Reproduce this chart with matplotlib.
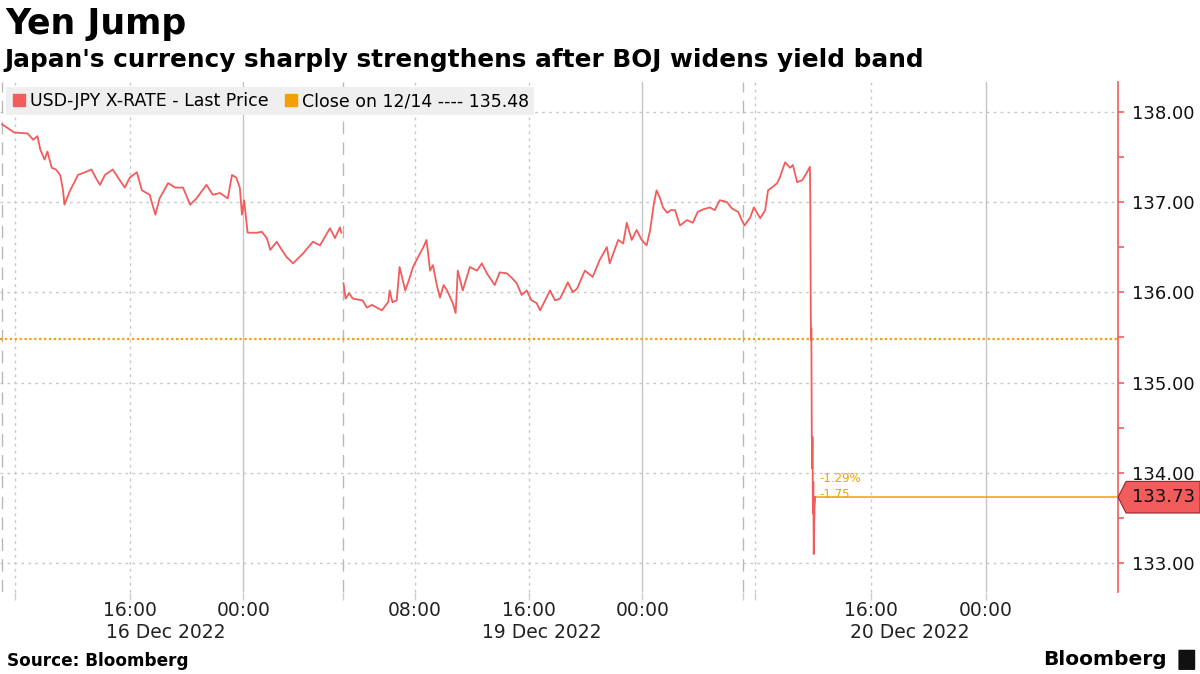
import matplotlib.pyplot as plt
import numpy as np
from matplotlib.lines import Line2D
from matplotlib.patches import Polygon, FancyBboxPatch

# czas w godzinach na osi wykresu (weekend wycięty), start = 16 Dec 07:00
hours_dec16 = [0, 0.4, 0.85, 1.8, 2.2, 2.5, 2.7, 3.0, 3.2, 3.5, 3.8, 4.1, 4.3, 4.4, 4.8,
               5.1, 5.35, 5.85, 6.3, 6.6, 6.9, 7.25, 7.8, 8.3, 8.65, 9.0, 9.5, 9.85, 10.4,
               10.8, 11.1, 11.7, 12.2, 12.75, 13.25, 13.7, 14.4, 14.85, 15.35, 15.9, 16.2,
               16.5, 16.75, 16.9, 17.05, 17.3, 17.95, 18.3, 18.65, 18.9, 19.35, 19.7, 20.05,
               20.5, 21.2, 21.9, 22.4, 23.1, 23.45, 23.8, 23.9]
price_dec16 = [137.86, 137.82, 137.77, 137.76, 137.69, 137.73, 137.58, 137.47, 137.56, 137.38,
               137.36, 137.30, 137.13, 136.97, 137.13, 137.22, 137.30, 137.33, 137.36, 137.27,
               137.19, 137.30, 137.36, 137.24, 137.16, 137.27, 137.33, 137.13, 137.08, 136.86,
               137.04, 137.21, 137.16, 137.16, 136.97, 137.04, 137.19, 137.08, 137.10, 137.04,
               137.30, 137.27, 137.16, 136.86, 137.02, 136.66, 136.66, 136.67, 136.60, 136.47,
               136.56, 136.47, 136.39, 136.32, 136.43, 136.56, 136.52, 136.71, 136.60, 136.72,
               136.66]

hours_dec19 = [24.05, 24.2, 24.45, 24.7, 25.4, 25.7, 26.05, 26.4, 26.75, 27.2, 27.3, 27.5, 27.8,
               28.0, 28.4, 28.65, 28.95, 29.3, 29.65, 29.9, 30.15, 30.35, 30.65, 30.85, 31.1,
               31.35, 31.75, 31.95, 32.1, 32.45, 32.95, 33.45, 33.8, 34.15, 34.7, 35.05, 35.55,
               35.9, 36.25, 36.6, 36.95, 37.3, 37.65, 37.9, 38.25, 38.6, 38.95, 39.3, 39.85,
               40.2, 40.5, 41.05, 41.6, 42.1, 42.6, 42.8, 43.4, 43.75, 44.0, 44.35, 44.7, 45.05,
               45.4, 45.65, 45.9, 46.1, 46.35, 46.55, 46.85, 47.1, 47.4, 47.75, 48.25, 48.65,
               49.0, 49.4, 49.85, 50.2, 50.55, 51.05, 51.4, 51.85, 52.1, 52.3, 52.7, 52.95,
               53.4, 53.75, 53.95, 54.3, 54.6, 54.8, 55.15, 55.5, 55.7, 56.0, 56.35, 56.7, 56.9,
               56.93, 56.96, 56.98, 57.0, 57.03, 57.06, 57.08, 57.11, 57.14, 57.17, 57.22, 57.27]
price_dec19 = [136.10, 135.93, 135.99, 135.93, 135.91, 135.83, 135.86, 135.83, 135.80, 135.89,
               136.02, 135.89, 135.91, 136.28, 136.02, 136.13, 136.28, 136.39, 136.49, 136.58,
               136.24, 136.30, 136.06, 135.94, 136.08, 136.02, 135.88, 135.77, 136.24, 136.02,
               136.28, 136.24, 136.32, 136.21, 136.08, 136.22, 136.21, 136.16, 136.10, 135.97,
               136.02, 135.91, 135.88, 135.80, 135.91, 136.02, 135.91, 135.93, 136.11, 136.00,
               136.04, 136.24, 136.17, 136.36, 136.50, 136.32, 136.58, 136.54, 136.77, 136.58,
               136.69, 136.58, 136.52, 136.69, 136.97, 137.13, 137.04, 136.94, 136.88, 136.91,
               136.91, 136.74, 136.80, 136.77, 136.89, 136.92, 136.94, 136.91, 137.02, 137.00,
               136.93, 136.89, 136.80, 136.74, 136.83, 136.94, 136.82, 136.91, 137.13, 137.17,
               137.21, 137.28, 137.44, 137.38, 137.41, 137.22, 137.24, 137.33, 137.39,
               136.95, 135.75, 135.47, 135.60, 134.45, 134.05, 134.40, 133.55, 133.90, 133.10,
               133.60, 133.73]

close_1214 = 135.48
last_price = 133.73

# osie czasu
tick_pos = [9, 17, 29.1, 37.1, 45.1, 61.2, 69.3]
tick_lab = ['16:00', '00:00', '08:00', '16:00', '00:00', '16:00', '00:00']
dotted_pos = [0.9, 9, 29.1, 37.1, 53.0, 61.2]
solid_pos = [17, 45.1, 69.3]
break_pos = [0, 24, 52.2]
date_pos = [11.5, 38.0, 63.9]
date_lab = ['16 Dec 2022', '19 Dec 2022', '20 Dec 2022']

red = '#f25c5c'
orange = '#f5a000'

fig = plt.figure(figsize=(12, 6.74), dpi=100)
ax = fig.add_axes([0.0, 0.1217, 0.9317, 0.7567])

x = hours_dec16 + [np.nan] + hours_dec19
y = price_dec16 + [np.nan] + price_dec19
ax.plot(x, y, color=red, lw=1.3, zorder=5)

ax.set_xlim(-0.14, 78.6)
ax.set_ylim(132.68, 138.33)

# siatka
for v in range(133, 139):
    ax.axhline(v, color='#c8c8c8', lw=1, ls=(0, (2, 3)), zorder=1)
for p in dotted_pos:
    ax.axvline(p, color='#c8c8c8', lw=1, ls=(0, (2, 3)), zorder=1)
for p in solid_pos:
    ax.axvline(p, color='#c4c4c4', lw=1, zorder=1)
for p in break_pos:
    ax.axvline(p, color='#b8b8b8', lw=1, ls=(0, (9, 6)), zorder=1)

# zamkniecie 12/14
ax.axhline(close_1214, color=orange, lw=1.6, ls=(0, (1, 1.2)), zorder=3)

# ostatnia cena
ax.plot([hours_dec19[-1], 78.6], [last_price, last_price], color=orange, lw=1.1, zorder=4)
ax.text(hours_dec19[-1] + 0.3, 133.94, '-1.29%', color=orange, fontsize=8.5, va='center')
ax.text(hours_dec19[-1] + 0.3, 133.76, '-1.75', color=orange, fontsize=8.5, va='center')

trans = ax.get_yaxis_transform()
pw = 1 / 1118
poly = Polygon([[1.0, last_price], [1.0 + 8 * pw, last_price + 0.175],
                [1.0 + 82 * pw, last_price + 0.175], [1.0 + 82 * pw, last_price - 0.175],
                [1.0 + 8 * pw, last_price - 0.175]], closed=True, transform=trans,
               facecolor=red, edgecolor='#8a2a2a', lw=0.8, clip_on=False, zorder=6)
ax.add_patch(poly)
ax.text(1.0 + 46 * pw, last_price, '133.73', transform=trans, ha='center', va='center',
        fontsize=13, color='#111111', clip_on=False, zorder=7)

# os y po prawej
for s in ['left', 'top', 'bottom']:
    ax.spines[s].set_visible(False)
ax.spines['right'].set_color(red)
ax.spines['right'].set_linewidth(1.2)
ax.yaxis.tick_right()
ax.set_yticks(range(133, 139))
ax.set_yticklabels(['%.2f' % v for v in range(133, 139)])
ax.set_yticks(np.arange(133.5, 138.5, 1), minor=True)
ax.tick_params(axis='y', which='both', colors=red, labelcolor='#111111', labelsize=13,
               length=4, width=1.2, pad=6)

# os x
ax.set_xticks(tick_pos)
ax.set_xticklabels(tick_lab)
ax.set_xticks([0.9, 24, 52.2, 53.0], minor=True)
ax.tick_params(axis='x', which='both', colors='#cccccc', labelcolor='#222222',
               labelsize=13.5, length=6, width=1, pad=0.5)
for p, lab in zip(date_pos, date_lab):
    ax.text(p, -0.08, lab, transform=ax.get_xaxis_transform(), ha='center', va='center',
            fontsize=13.5, color='#222222')

# legenda
handles = [Line2D([], [], marker='s', ls='None', color=red, markersize=9),
           Line2D([], [], marker='s', ls='None', color=orange, markersize=9)]
leg = ax.legend(handles, ['USD-JPY X-RATE - Last Price', 'Close on 12/14 ---- 135.48'],
                loc='upper left', bbox_to_anchor=(0.005, 0.99), ncol=2, fontsize=12.5,
                frameon=True, facecolor='#efefef', edgecolor='none', framealpha=1,
                fancybox=False, handletextpad=0.1, columnspacing=0.8, borderpad=0.3,
                handlelength=1.0, borderaxespad=0)
leg.set_zorder(8)

# tytuly
fig.text(0.004, 0.965, 'Yen Jump', fontsize=25, fontweight='bold', va='center')
fig.text(0.004, 0.911, "Japan's currency sharply strengthens after BOJ widens yield band",
         fontsize=17.8, fontweight='bold', va='center')
fig.text(0.006, 0.019, 'Source: Bloomberg', fontsize=12.2, fontweight='bold', va='center')
fig.text(0.972, 0.021, 'Bloomberg', fontsize=14.5, fontweight='bold', va='center', ha='right')
fig.patches.append(FancyBboxPatch((0.983, 0.007), 0.012, 0.028, boxstyle='round,pad=0.001',
                                  transform=fig.transFigure, facecolor='#111111',
                                  edgecolor='none'))

plt.savefig('out.png', dpi=100)
